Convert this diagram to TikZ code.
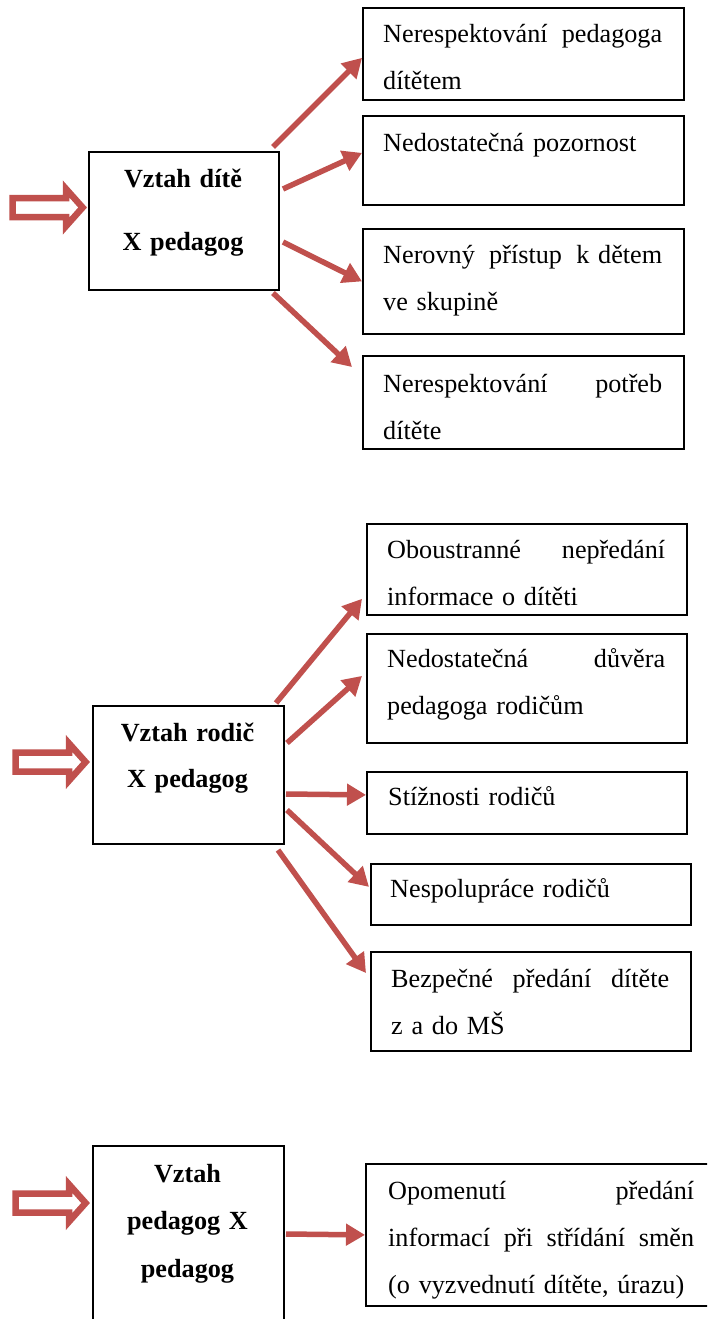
\documentclass[tikz,border=0pt]{standalone}
\usepackage{fontspec}
\setmainfont{Liberation Serif}
\usetikzlibrary{arrows.meta,calc}
\definecolor{arrowred}{HTML}{C0504D}

\tikzset{
  box/.style={draw=black, line width=1.8pt, anchor=north west, inner sep=0pt},
  body/.style={anchor=base west, inner sep=0pt, align=left,
    font=\fontsize{26.2}{47}\selectfont},
  head/.style={anchor=base, inner sep=0pt, align=center,
    font=\fontsize{26.2}{#1}\selectfont\bfseries},
  link/.style={draw=arrowred, line width=5.5pt,
    -{Triangle[length=19pt,width=21pt]}},
  fatarrow/.pic={
    \draw[arrowred, line width=6.5pt, fill=white, line join=miter]
      (-70,-9.5) -- (-16.5,-9.5) -- (-16.5,-18.5) -- (0,0)
      -- (-16.5,18.5) -- (-16.5,9.5) -- (-70,9.5) -- cycle;}
}

\begin{document}
\begin{tikzpicture}[x=1pt,y=-1pt]
\clip (0,0) rectangle (707,1319);
\fill[white] (0,0) rectangle (707,1319);

% ---------- child -- teacher ----------
\node[box, minimum width=190pt, minimum height=138pt] (A) at (88,151) {};
\node[head=63, text width=190pt] (At) at (183,187) {Vztah dítě\\X pedagog};
\pic at (82.6,207.5) {fatarrow};

\node[box, minimum width=321pt, minimum height=92pt]  (b11) at (362,7) {};
\node[box, minimum width=321pt, minimum height=89pt]  (b12) at (362,115) {};
\node[box, minimum width=321pt, minimum height=105pt] (b13) at (362,228) {};
\node[box, minimum width=321pt, minimum height=93pt]  (b14) at (362,355) {};

\node[body, text width=279pt] (b11t) at (383,43)  {Nerespektování\hfill pedagoga\\dítětem};
\node[body, text width=279pt] (b12t) at (383,151) {Nedostatečná pozornost};
\node[body, text width=279pt] (b13t) at (383,263) {Nerovný\hfill přístup\hfill k~dětem\\ve skupině};
\node[body, text width=279pt] (b14t) at (383,392) {Nerespektování\hfill potřeb\\dítěte};

\coordinate (a1s) at (273,147);
\coordinate (a2s) at (283,189);
\coordinate (a3s) at (283,242);
\coordinate (a4s) at (273,293);
\draw[link] (a1s) -- ($(b11.west)+(0,4)$);
\draw[link] (a2s) -- ($(b12.west)+(0,-7.5)$);
\draw[link] (a3s) -- (b13.west);
\draw[link] (a4s) -- ($(b14.north west)+(-10,12)$);

% ---------- parent -- teacher ----------
\node[box, minimum width=191pt, minimum height=138pt] (B) at (92,705) {};
\node[head=46, text width=191pt] (Bt) at (187.5,741) {Vztah rodič\\X pedagog};
\pic at (85.6,762) {fatarrow};

\node[box, minimum width=320pt, minimum height=91pt]  (c1) at (366,523) {};
\node[box, minimum width=320pt, minimum height=109pt] (c2) at (366,633) {};
\node[box, minimum width=320pt, minimum height=62pt]  (c3) at (366,771) {};
\node[box, minimum width=320pt, minimum height=61pt]  (c4) at (370,863) {};
\node[box, minimum width=320pt, minimum height=99pt]  (c5) at (370,951) {};

\node[body, text width=278pt] (c1t) at (387,558) {Oboustranné\hfill nepředání\\informace o dítěti};
\node[body, text width=278pt] (c2t) at (387,667) {Nedostatečná\hfill důvěra\\pedagoga rodičům};
\node[body, text width=278pt] (c3t) at (388,805) {Stížnosti rodičů};
\node[body, text width=278pt] (c4t) at (390,897) {Nespolupráce rodičů};
\node[body, text width=278pt] (c5t) at (391,987) {Bezpečné\hfill předání\hfill dítěte\\z a do MŠ};

\coordinate (b1s) at (276,703);
\coordinate (b2s) at (287,743);
\coordinate (b3s) at (286,794);
\coordinate (b4s) at (287,810);
\coordinate (b5s) at (278,850);
\draw[link] (b1s) -- ($(c1.south west)+(-4,-17)$);
\draw[link] (b2s) -- ($(c2.west)+(-4,-12.5)$);
\draw[link] (b3s) -- ($(c3.west)+(0,-8)$);
\draw[link] (b4s) -- ($(c4.west)+(-1,-7.5)$);
\draw[link] (b5s) -- ($(c5.north west)+(-4,22)$);

% ---------- teacher -- teacher ----------
\node[box, minimum width=191pt, minimum height=200pt] (C) at (92,1145) {};
\node[head=47.5, text width=191pt] (Ct) at (187.5,1182) {Vztah\\pedagog X\\pedagog};
\pic at (85.6,1203) {fatarrow};

\node[box, minimum width=380pt, minimum height=142pt] (d1) at (365,1163) {};
\node[body, text width=306pt] (d1t) at (388,1199)
  {Opomenutí\hfill předání\\informací\hfill při\hfill střídání\hfill směn\\(o vyzvednutí dítěte, úrazu)};

\coordinate (cs) at (286,1234);
\draw[link] (cs) -- (d1.west);
\end{tikzpicture}
\end{document}
